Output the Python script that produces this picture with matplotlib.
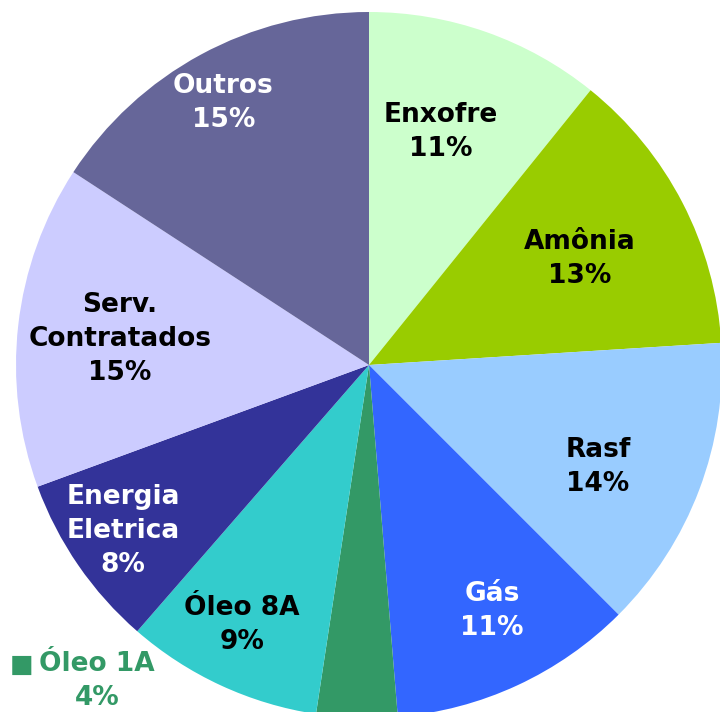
import numpy as np
import matplotlib.pyplot as plt

labels = ['Enxofre', 'Amônia', 'Rasf', 'Gás', 'Óleo 1A', 'Óleo 8A',
          'Energia\nEletrica', 'Serv.\nContratados', 'Outros']
shares = [10.8, 13.2, 13.5, 11.2, 3.7, 9.0, 8.0, 14.8, 15.8]
pct_labels = [11, 13, 14, 11, 4, 9, 8, 15, 15]
colors = ['#CCFFCC', '#99CC00', '#99CCFF', '#3366FF', '#339966', '#33CCCC',
          '#333399', '#CCCCFF', '#666699']
text_colors = ['black', 'black', 'black', 'white', '#339966', 'black',
               'white', 'black', 'white']
# label placement: distance from centre (fraction of radius) and angle tweak
label_dist = [0.69, 0.67, 0.71, 0.78, None, 0.82, 0.84, 0.71, 0.85]
label_shift = [2.2, -0.6, -3.3, 1.7, 0, -1.2, -0.6, 0.5, 0.6]

fig = plt.figure(figsize=(7.2, 7.12), dpi=100)
ax = fig.add_axes([0, 0, 1, 1])

R = 353.0
cx, cy = 369.0, 365.0

wedges, _ = ax.pie(shares, colors=colors, startangle=90, counterclock=False,
                   radius=1, wedgeprops=dict(linewidth=0))
ax.set_aspect('auto')
ax.set_xlim(-cx / R, (720 - cx) / R)
ax.set_ylim(-(712 - cy) / R, cy / R)
ax.axis('off')

fs = 19
for w, lab, v, tc, d, sh in zip(wedges, labels, pct_labels, text_colors,
                                label_dist, label_shift):
    if d is None:
        continue
    ang = np.deg2rad((w.theta1 + w.theta2) / 2 + sh)
    ax.text(d * np.cos(ang), d * np.sin(ang), '%s\n%d%%' % (lab, v),
            ha='center', va='center', fontsize=fs, fontweight='bold',
            color=tc, linespacing=1.4)

# Óleo 1A is labelled outside the pie, with a little colour key
i = labels.index('Óleo 1A')
ax.text((97 - cx) / R, -(681 - cy) / R, '%s\n%d%%' % (labels[i], pct_labels[i]),
        ha='center', va='center', fontsize=fs, fontweight='bold',
        color=text_colors[i], linespacing=1.4)
ax.text((22 - cx) / R, -(665 - cy) / R, '■', ha='center', va='center',
        fontsize=18, color=colors[i])

fig.savefig('out.png', dpi=100)
